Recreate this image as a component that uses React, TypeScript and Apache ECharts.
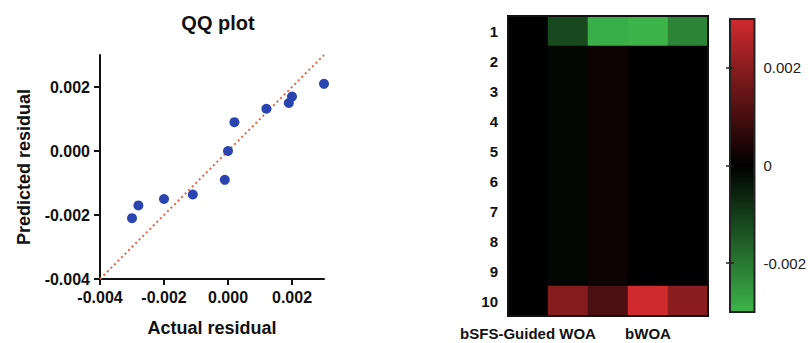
import React, { useEffect, useRef } from "react";
import * as echarts from "echarts";

// QQ plot data
const qqActual = [-0.003, -0.0028, -0.002, -0.0011, -0.0001, 0.0, 0.0002, 0.0012, 0.0019, 0.002, 0.003];
const qqPredicted = [-0.0021, -0.0017, -0.0015, -0.00136, -0.0009, 0.0, 0.0009, 0.00132, 0.0015, 0.0017, 0.0021];
const refLine = [[-0.004, -0.004], [0.003, 0.003]];
const qqTicks = [-0.004, -0.002, 0, 0.002];

// Heatmap data
const algorithms = ["bSFS-Guided WOA", "bGWO", "bPSO", "bWOA", "bGA"];
const shownAlgoIdx = [0, 3];
const rows = ["1", "2", "3", "4", "5", "6", "7", "8", "9", "10"];
// values[row][col]
const heatValues = [
  [0, -0.0012, -0.0029, -0.003, -0.0022],
  [0, -0.0001, 0.0002, 0, 0],
  [0, -0.0001, 0.0002, 0, 0],
  [0, -0.0001, 0.0002, 0, 0],
  [0, -0.0001, 0.0002, 0, 0],
  [0, -0.0001, 0.0002, 0, 0],
  [0, -0.0001, 0.0002, 0, 0],
  [0, -0.0001, 0.0002, 0, 0],
  [0, -0.0001, 0.0002, 0, 0],
  [0, 0.0019, 0.0011, 0.003, 0.002],
];
const colorbarTicks = [-0.002, 0, 0.002];

const FONT = "Liberation Sans, Arial, sans-serif";

export default function App() {
  const ref = useRef<HTMLDivElement>(null);
  useEffect(() => {
    if (!ref.current) return;
    const chart = echarts.init(ref.current, undefined, { renderer: "svg" });
    const heatData: number[][] = [];
    heatValues.forEach((row, r) => row.forEach((v, c) => heatData.push([c, r, v])));
    const fmt3 = (v: number) => (Math.abs(v) < 1e-12 ? "0.000" : v.toFixed(3));
    const boldLabel = { color: "#111", fontSize: 16, fontWeight: "bold" as const, fontFamily: FONT };
    const heatLabel = { color: "#111", fontSize: 15, fontWeight: "bold" as const, fontFamily: FONT };
    chart.setOption({
      animation: false,
      textStyle: { fontFamily: FONT },
      title: {
        text: "QQ plot",
        left: 213,
        top: 8,
        textAlign: "center",
        textStyle: { fontSize: 20, fontWeight: "bold", color: "#111", fontFamily: FONT },
      },
      grid: [
        { left: 100, top: 55, width: 224, height: 224 },
        { left: 508, top: 16, width: 200, height: 300, show: true, borderColor: "#111", borderWidth: 2, backgroundColor: "transparent", z: 10 },
        { left: 730, top: 19, width: 25, height: 293, show: true, borderColor: "#222", borderWidth: 2, backgroundColor: "transparent", z: 10 },
      ],
      xAxis: [
        {
          type: "value", gridIndex: 0, min: -0.004, max: 0.003, interval: 0.002,
          name: "Actual residual", nameLocation: "middle", nameGap: 40,
          nameTextStyle: { fontSize: 18, fontWeight: "bold", color: "#111", fontFamily: FONT },
          axisLine: { onZero: false, lineStyle: { color: "#111", width: 2 } },
          axisTick: { length: 6, customValues: qqTicks, lineStyle: { color: "#111", width: 2 } },
          axisLabel: { ...boldLabel, margin: 10, customValues: qqTicks, formatter: fmt3 },
          splitLine: { show: false },
        },
        {
          type: "category", gridIndex: 1, data: algorithms,
          axisLine: { show: false }, axisTick: { show: false },
          axisLabel: { ...heatLabel, margin: 10, interval: (i: number) => shownAlgoIdx.includes(i) },
          splitLine: { show: false },
        },
        {
          type: "value", gridIndex: 2, show: false,
        },
      ],
      yAxis: [
        {
          type: "value", gridIndex: 0, min: -0.004, max: 0.003, interval: 0.002,
          name: "Predicted residual", nameLocation: "middle", nameGap: 67,
          nameTextStyle: { fontSize: 18, fontWeight: "bold", color: "#111", fontFamily: FONT },
          axisLine: { onZero: false, lineStyle: { color: "#111", width: 2 } },
          axisTick: { length: 6, customValues: qqTicks, lineStyle: { color: "#111", width: 2 } },
          axisLabel: { ...boldLabel, margin: 10, customValues: qqTicks, formatter: fmt3 },
          splitLine: { show: false },
        },
        {
          type: "category", gridIndex: 1, data: rows, inverse: true,
          axisLine: { show: false }, axisTick: { show: false },
          axisLabel: { ...heatLabel, margin: 10 },
          splitLine: { show: false },
        },
        {
          type: "value", gridIndex: 2, position: "right", min: -0.003, max: 0.003, z: 10,
          axisLine: { show: false },
          axisTick: { show: true, inside: true, length: 4, customValues: colorbarTicks, lineStyle: { color: "#222", width: 1.5 } },
          axisLabel: {
            color: "#222", fontSize: 15, fontFamily: FONT, margin: 9,
            customValues: colorbarTicks,
            formatter: (v: number) => (Math.abs(v) < 1e-12 ? "0" : v.toFixed(3)),
          },
          splitLine: { show: false },
        },
        {
          type: "value", gridIndex: 2, position: "left", min: -0.003, max: 0.003, z: 10,
          axisLine: { show: false },
          axisTick: { show: true, inside: true, length: 4, customValues: colorbarTicks, lineStyle: { color: "#222", width: 1.5 } },
          axisLabel: { show: false },
          splitLine: { show: false },
        },
      ],
      visualMap: {
        type: "continuous",
        min: -0.003, max: 0.003,
        seriesIndex: 2,
        calculable: false,
        left: 730, top: 19,
        itemWidth: 25, itemHeight: 293,
        padding: 0,
        z: 1,
        text: ["", ""],
        inRange: { color: ["#3cb44a", "#000000", "#d02a2e"] },
        hoverLink: false,
      },
      series: [
        {
          type: "line", xAxisIndex: 0, yAxisIndex: 0, data: refLine, symbol: "none",
          lineStyle: { color: "#f4603a", width: 2, type: [2, 3] }, z: 2,
        },
        {
          type: "scatter", xAxisIndex: 0, yAxisIndex: 0,
          data: qqActual.map((x, i) => [x, qqPredicted[i]]),
          symbolSize: 10, itemStyle: { color: "#2b45b0", opacity: 1 }, z: 3,
        },
        {
          type: "heatmap", xAxisIndex: 1, yAxisIndex: 1, data: heatData,
        },
      ],
    });
    return () => chart.dispose();
  }, []);
  return <div ref={ref} style={{ position: "absolute", left: 0, top: 0, width: 809, height: 343 }} />;
}
